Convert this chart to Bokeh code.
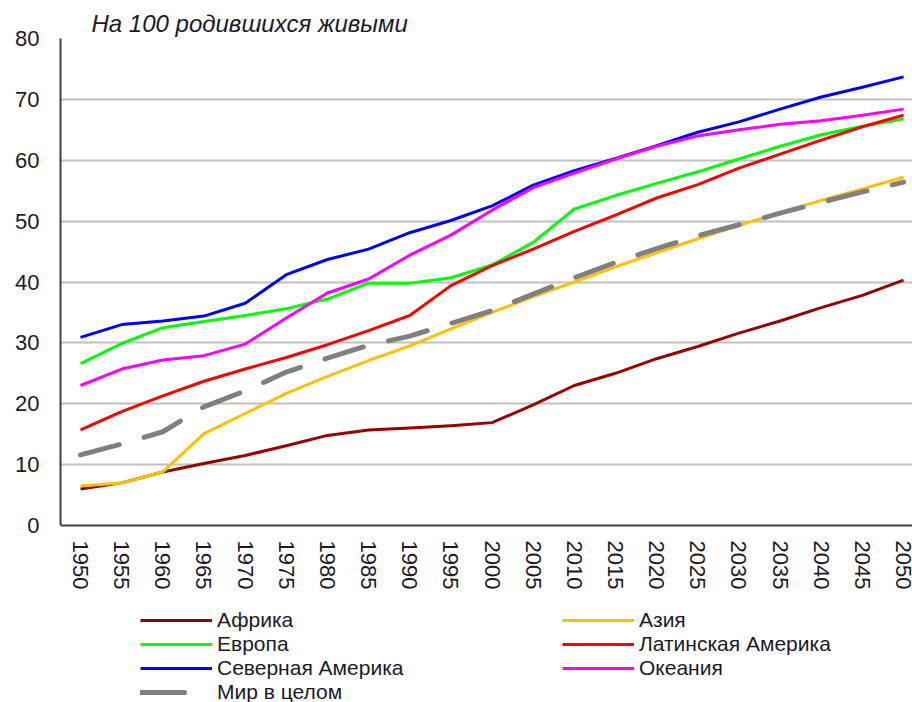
from bokeh.plotting import figure
from bokeh.layouts import column
from bokeh.models import Range1d, FixedTicker, Legend, LegendItem
from bokeh.embed import file_html
from bokeh.resources import INLINE

years = [1950, 1955, 1960, 1965, 1970, 1975, 1980, 1985, 1990, 1995, 2000,
         2005, 2010, 2015, 2020, 2025, 2030, 2035, 2040, 2045, 2050]

africa = [6.0, 7.0, 8.8, 10.2, 11.5, 13.1, 14.8, 15.7, 16.0, 16.4, 16.9,
          19.8, 23.0, 25.0, 27.4, 29.4, 31.6, 33.6, 35.8, 37.8, 40.3]
asia = [6.5, 7.0, 8.8, 15.1, 18.4, 21.7, 24.5, 27.1, 29.5, 32.3, 35.0,
        37.6, 40.0, 42.5, 44.8, 47.1, 49.3, 51.4, 53.4, 55.3, 57.2]
europe = [26.6, 29.9, 32.5, 33.5, 34.5, 35.6, 37.2, 39.8, 39.8, 40.7, 42.8,
          46.5, 52.0, 54.2, 56.2, 58.1, 60.2, 62.3, 64.2, 65.6, 66.8]
latin_america = [15.7, 18.7, 21.3, 23.7, 25.7, 27.6, 29.7, 32.0, 34.5, 39.4, 42.7,
                 45.4, 48.3, 51.0, 53.8, 56.0, 58.7, 61.0, 63.3, 65.5, 67.4]
north_america = [30.9, 33.0, 33.6, 34.4, 36.5, 41.2, 43.7, 45.4, 48.1, 50.1, 52.5,
                 55.9, 58.3, 60.3, 62.4, 64.6, 66.3, 68.4, 70.4, 72.0, 73.7]
oceania = [23.0, 25.7, 27.2, 27.9, 29.8, 34.1, 38.2, 40.5, 44.4, 47.7, 51.8,
           55.5, 57.9, 60.2, 62.3, 64.0, 65.0, 65.9, 66.5, 67.4, 68.4]
world = [11.6, 13.4, 15.4, 19.5, 22.1, 25.2, 27.5, 29.6, 31.1, 33.2, 35.3,
         38.0, 40.7, 43.2, 45.5, 47.6, 49.4, 51.3, 53.1, 54.8, 56.4]

series = [
    ("Африка", africa, "#990000"),
    ("Азия", asia, "#FFC000"),
    ("Европа", europe, "#00FF00"),
    ("Латинская Америка", latin_america, "#FF0000"),
    ("Северная Америка", north_america, "#0000FF"),
    ("Океания", oceania, "#FF00FF"),
]
world_name = "Мир в целом"
world_color = "#808080"

y_ticks = [0, 10, 20, 30, 40, 50, 60, 70, 80]
title_text = "На 100 родившихся живыми"

TEXT = "#1a1a2a"
FONT = "Liberation Sans"

# ---------------- main chart ----------------
p = figure(width=912, height=600, output_backend="svg", toolbar_location=None,
           x_range=Range1d(1947.57, 2051.09), y_range=Range1d(0, 80),
           min_border_left=60, min_border_right=0, min_border_top=38,
           min_border_bottom=75)

p.title.text = title_text
p.title.text_font = FONT
p.title.text_font_style = "italic"
p.title.text_font_size = "24px"
p.title.align = "left"
p.title.offset = 31
p.title.standoff = 4
p.title.text_color = TEXT

p.outline_line_color = None
p.xgrid.grid_line_color = None
p.ygrid.grid_line_color = "#c0c0c0"
p.ygrid.grid_line_width = 2
p.yaxis.ticker = FixedTicker(ticks=y_ticks)
p.xaxis.ticker = FixedTicker(ticks=years)

for ax in (p.xaxis[0], p.yaxis[0]):
    ax.axis_line_color = "#404040"
    ax.axis_line_width = 2
    ax.major_tick_line_color = None
    ax.minor_tick_line_color = None
    ax.major_label_text_font = FONT
    ax.major_label_text_color = TEXT

p.yaxis.major_label_text_font_size = "22px"
p.yaxis.major_label_standoff = 15
p.xaxis.major_label_text_font_size = "22px"
p.xaxis.major_label_orientation = "vertical"
p.xaxis.major_label_standoff = 9

for name, vals, color in series:
    p.line(years, vals, line_color=color, line_width=3, line_join="round")
p.line(years, world, line_color=world_color, line_width=5, line_dash="40 26",
       line_cap="round", line_join="round")

# ---------------- legend strip ----------------
# Same series drawn in a strip whose ranges keep them out of view; only the
# legend of this strip is visible.
lg = figure(width=912, height=102, output_backend="svg", toolbar_location=None,
            x_range=Range1d(0, 1), y_range=Range1d(0, 1),
            min_border_left=0, min_border_right=0, min_border_top=0,
            min_border_bottom=0)
lg.axis.visible = False
lg.grid.visible = False
lg.outline_line_color = None

keys = {}
for name, vals, color in series:
    keys[name] = lg.line(years, vals, line_color=color, line_width=3)
keys[world_name] = lg.line(years, world, line_color=world_color, line_width=5,
                           line_dash="44 80", line_cap="round")

def make_legend(names, loc):
    return Legend(items=[LegendItem(label=n, renderers=[keys[n]]) for n in names],
                  location=loc, orientation="vertical",
                  padding=0, margin=0, spacing=0, glyph_width=72, glyph_height=24,
                  label_height=24, label_standoff=5,
                  label_text_font=FONT, label_text_font_size="21px",
                  label_text_color=TEXT,
                  background_fill_alpha=0, border_line_alpha=0)

lg.add_layout(make_legend(["Африка", "Европа", "Северная Америка", world_name], (80, -2)), "center")
lg.add_layout(make_legend(["Азия", "Латинская Америка", "Океания"], (502, 22)), "center")

layout = column(p, lg, spacing=0)
open("out.html", "w").write(file_html(layout, INLINE))
